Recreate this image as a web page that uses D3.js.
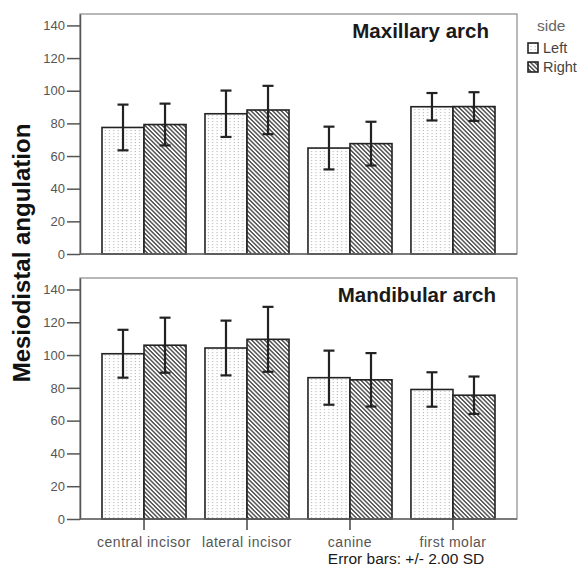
<!DOCTYPE html>
<html>
<head>
<meta charset="utf-8">
<script src="https://cdn.jsdelivr.net/npm/d3@7"></script>
<style>
  body { margin: 0; background: #fff; }
  svg { display: block; font-family: "Liberation Sans", Arial, sans-serif; }
</style>
</head>
<body>
<svg id="chart" width="584" height="568"></svg>
<script>
// ---- data ----
const categories = ["central incisor", "lateral incisor", "canine", "first molar"];
const sides = ["Left", "Right"];
const yTicks = [0, 20, 40, 60, 80, 100, 120, 140];
// Maxillary arch: means and SD
const maxLeftMean  = [77.5, 85.9, 64.9, 90.2];
const maxRightMean = [79.3, 88.2, 67.6, 90.3];
const maxLeftSD    = [7.0, 7.1, 6.55, 4.2];
const maxRightSD   = [6.4, 7.4, 6.7, 4.4];
// Mandibular arch: means and SD
const manLeftMean  = [100.8, 104.3, 86.2, 79.0];
const manRightMean = [106.0, 109.6, 84.9, 75.5];
const manLeftSD    = [7.3, 8.35, 8.25, 5.25];
const manRightSD   = [8.4, 9.9, 8.15, 5.7];
const panelTitles = ["Maxillary arch", "Mandibular arch"];
const errorMultiplier = 2;

const svg = d3.select("#chart");
const defs = svg.append("defs");

// dotted pattern (Left)
const pDot = defs.append("pattern").attr("id", "dots")
  .attr("patternUnits", "userSpaceOnUse").attr("width", 4.3).attr("height", 3);
pDot.append("rect").attr("width", 4.3).attr("height", 3).attr("fill", "#fff");
pDot.append("rect").attr("x", 1.5).attr("y", 1).attr("width", 1.1).attr("height", 1.1).attr("fill", "#b8b8b8");

// hatch pattern (Right)
const pHatch = defs.append("pattern").attr("id", "hatch")
  .attr("patternUnits", "userSpaceOnUse").attr("width", 6).attr("height", 3.05)
  .attr("patternTransform", "rotate(45)");
pHatch.append("rect").attr("width", 6).attr("height", 3.05).attr("fill", "#fff");
pHatch.append("line").attr("x1", 0).attr("x2", 6).attr("y1", 1.5).attr("y2", 1.5)
  .attr("stroke", "#333").attr("stroke-width", 1.25);

const fills = { Left: "url(#dots)", Right: "url(#hatch)" };

const left = 80, right = 517;
const x = d3.scaleBand().domain(categories).range([left, right])
  .paddingInner(0.184).paddingOuter(0.2136);
const xs = d3.scaleBand().domain(sides).range([0, x.bandwidth()]);

const panels = [
  { top: 14, bottom: 254, title: panelTitles[0], titleX: 489, titleY: 38,
    L: maxLeftMean, R: maxRightMean, LS: maxLeftSD, RS: maxRightSD },
  { top: 278, bottom: 519, title: panelTitles[1], titleX: 496, titleY: 302,
    L: manLeftMean, R: manRightMean, LS: manLeftSD, RS: manRightSD }
];

panels.forEach((p, pi) => {
  const y = d3.scaleLinear().domain([0, 147]).range([p.bottom, p.top]);
  const g = svg.append("g");

  // frame
  g.append("rect").attr("x", left).attr("y", p.top)
    .attr("width", right - left).attr("height", p.bottom - p.top)
    .attr("fill", "none").attr("stroke", "#8a8a8a").attr("stroke-width", 1.2);

  // y axis
  const ya = g.append("g").attr("transform", `translate(${left},0)`)
    .call(d3.axisLeft(y).tickValues(yTicks).tickSize(13).tickSizeOuter(0).tickPadding(2));
  ya.select(".domain").attr("stroke", "#555").attr("stroke-width", 1.5);
  ya.selectAll(".tick line").attr("stroke", "#555").attr("stroke-width", 1.5);
  ya.selectAll(".tick text").attr("fill", "#555").style("font-size", "13px")
    .style("font-family", "'Liberation Sans', Arial, sans-serif");

  // bars
  const rows = [];
  categories.forEach((c, i) => {
    rows.push({ cat: c, side: "Left", v: p.L[i], sd: p.LS[i] });
    rows.push({ cat: c, side: "Right", v: p.R[i], sd: p.RS[i] });
  });
  g.selectAll("rect.bar").data(rows).join("rect").attr("class", "bar")
    .attr("x", d => x(d.cat) + xs(d.side))
    .attr("y", d => y(d.v))
    .attr("width", xs.bandwidth())
    .attr("height", d => y(0) - y(d.v))
    .attr("fill", d => fills[d.side])
    .attr("stroke", "#222").attr("stroke-width", 1.6);

  // baseline
  g.append("line").attr("x1", left).attr("x2", right)
    .attr("y1", y(0)).attr("y2", y(0)).attr("stroke", "#666").attr("stroke-width", 1.5);

  // error bars
  const eb = g.selectAll("g.err").data(rows).join("g").attr("class", "err")
    .attr("stroke", "#222").attr("stroke-width", 2.2);
  const cx = d => x(d.cat) + xs(d.side) + xs.bandwidth() / 2;
  eb.append("line").attr("x1", cx).attr("x2", cx)
    .attr("y1", d => y(d.v + errorMultiplier * d.sd)).attr("y2", d => y(d.v - errorMultiplier * d.sd));
  eb.append("line").attr("x1", d => cx(d) - 5.5).attr("x2", d => cx(d) + 5.5)
    .attr("y1", d => y(d.v + errorMultiplier * d.sd)).attr("y2", d => y(d.v + errorMultiplier * d.sd));
  eb.append("line").attr("x1", d => cx(d) - 5.5).attr("x2", d => cx(d) + 5.5)
    .attr("y1", d => y(d.v - errorMultiplier * d.sd)).attr("y2", d => y(d.v - errorMultiplier * d.sd));

  // title
  g.append("text").attr("x", p.titleX).attr("y", p.titleY).attr("text-anchor", "end")
    .attr("font-weight", "bold").attr("font-size", 20.5).attr("fill", "#1a1a1a").text(p.title);

  // x axis on bottom panel
  if (pi === 1) {
    const xa = g.append("g").attr("transform", `translate(0,${p.bottom})`)
      .call(d3.axisBottom(x).tickSize(11).tickSizeOuter(0).tickPadding(7));
    xa.select(".domain").remove();
    xa.selectAll(".tick line").attr("stroke", "#444").attr("stroke-width", 1.5);
    xa.selectAll(".tick text").attr("fill", "#555").style("font-size", "14px")
      .style("letter-spacing", "0.5px")
      .style("font-family", "'Liberation Sans', Arial, sans-serif");
  }
});

// footnote
svg.append("text").attr("x", 406).attr("y", 564).attr("text-anchor", "middle")
  .attr("font-size", 15.5).attr("fill", "#1a1a1a").text("Error bars: +/- 2.00 SD");

// y label
svg.append("text").attr("transform", "translate(30,253) rotate(-90)")
  .attr("text-anchor", "middle").attr("font-weight", "bold").attr("font-size", 24)
  .attr("fill", "#111").text("Mesiodistal angulation");

// legend
const lg = svg.append("g");
lg.append("text").attr("x", 537).attr("y", 31).attr("font-size", 15.5).attr("fill", "#666").text("side");
sides.forEach((s, i) => {
  const yy = 43 + i * 19;
  lg.append("rect").attr("x", 528).attr("y", yy).attr("width", 10).attr("height", 10)
    .attr("fill", fills[s]).attr("stroke", "#222").attr("stroke-width", 1.6);
  lg.append("text").attr("x", 543).attr("y", yy + 10).attr("font-size", 14.5).attr("fill", "#444").text(s);
});
</script>
</body>
</html>
